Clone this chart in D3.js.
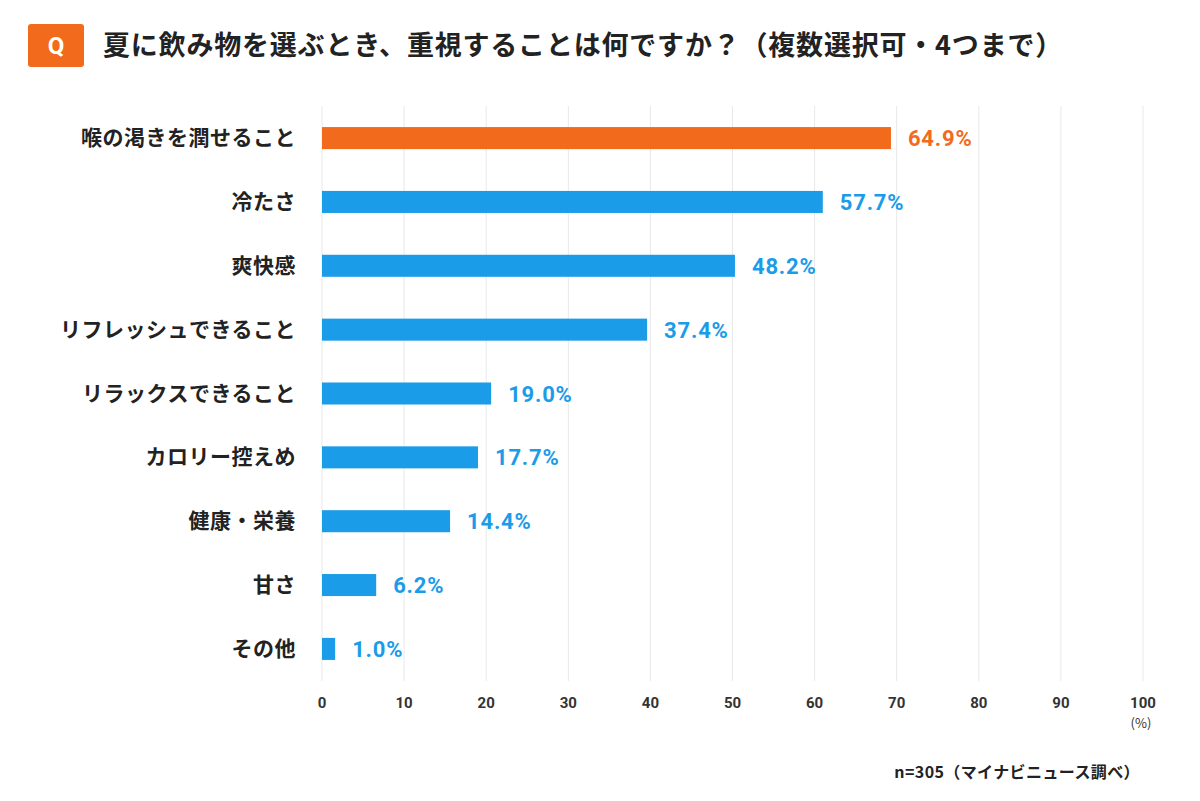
<!DOCTYPE html>
<html><head><meta charset="utf-8">
<script src="https://cdn.jsdelivr.net/npm/d3@7"></script>
<style>body{margin:0;background:#fff;font-family:"Noto Sans CJK JP",sans-serif;}</style>
</head><body>
<svg id="chart" width="1200" height="801"></svg>
<script>
// categories, bar lengths as read against the axis, and the printed labels
var categories = ['喉の渇きを潤せること','冷たさ','爽快感','リフレッシュできること','リラックスできること','カロリー控えめ','健康・栄養','甘さ','その他'];
var barValues = [69.3, 61.0, 50.3, 39.6, 20.6, 19.0, 15.6, 6.6, 1.6];
var valueLabels = ['64.9%','57.7%','48.2%','37.4%','19.0%','17.7%','14.4%','6.2%','1.0%'];
var ticks = [0,10,20,30,40,50,60,70,80,90,100];

var orange = '#F26A1B', blue = '#1B9CE9';
var svg = d3.select('#chart');

// title
svg.append('rect').attr('x',28).attr('y',24).attr('width',56).attr('height',43).attr('rx',3).attr('fill',orange);
svg.append('text').attr('x',56).attr('y',54).attr('text-anchor','middle').attr('fill','#fff')
  .style('font-size','24px').style('font-weight','bold').style('font-family','Roboto, sans-serif').text('Q');
svg.append('text').attr('x',103).attr('y',55).attr('fill','#222').style('letter-spacing','0.8px')
  .style('font-size','27px').style('font-weight','bold').text('夏に飲み物を選ぶとき、重視することは何ですか？（複数選択可・4つまで）');

var x = d3.scaleLinear().domain([0,100]).range([322,1143]);
var y = d3.scaleBand().domain(categories).range([106,681]).paddingInner(0.655).paddingOuter(0.33);

// grid
svg.append('g').selectAll('line').data(ticks).join('line')
  .attr('x1',d=>x(d)).attr('x2',d=>x(d)).attr('y1',106).attr('y2',681)
  .attr('stroke','#e8e8e8').attr('stroke-width',1);

// axis labels
svg.append('g').selectAll('text').data(ticks).join('text')
  .attr('x',d=>x(d)).attr('y',708).attr('text-anchor','middle').attr('fill','#333')
  .style('font-size','15px').style('font-family','Roboto, sans-serif').style('font-weight','bold').text(d=>d);
svg.append('text').attr('x',1141).attr('y',728).attr('text-anchor','middle').attr('fill','#333')
  .style('font-size','13px').text('(%)');

// bars
svg.append('g').selectAll('rect').data(categories).join('rect')
  .attr('x',x(0)).attr('y',d=>y(d)).attr('height',y.bandwidth())
  .attr('width',(d,i)=>x(barValues[i])-x(0)).attr('fill',(d,i)=>i===0?orange:blue);

// category labels
svg.append('g').selectAll('text').data(categories).join('text')
  .attr('x',296).attr('y',d=>y(d)+y.bandwidth()/2+7).attr('text-anchor','end').attr('fill','#222')
  .style('font-size','21px').style('letter-spacing','0.5px').style('font-weight','bold').text(d=>d);

// value labels
svg.append('g').selectAll('text').data(categories).join('text')
  .attr('x',(d,i)=>x(barValues[i])+17).attr('y',d=>y(d)+y.bandwidth()/2+8)
  .attr('fill',(d,i)=>i===0?orange:blue).style('letter-spacing','0.8px')
  .style('font-size','22px').style('font-weight','bold').style('font-family','Roboto, sans-serif')
  .text((d,i)=>valueLabels[i]);

// source
svg.append('text').attr('x',1140).attr('y',778).attr('text-anchor','end').attr('fill','#222')
  .style('font-size','16px').style('letter-spacing','0.4px').style('font-weight','bold').text('n=305（マイナビニュース調べ）');
</script>
</body></html>
